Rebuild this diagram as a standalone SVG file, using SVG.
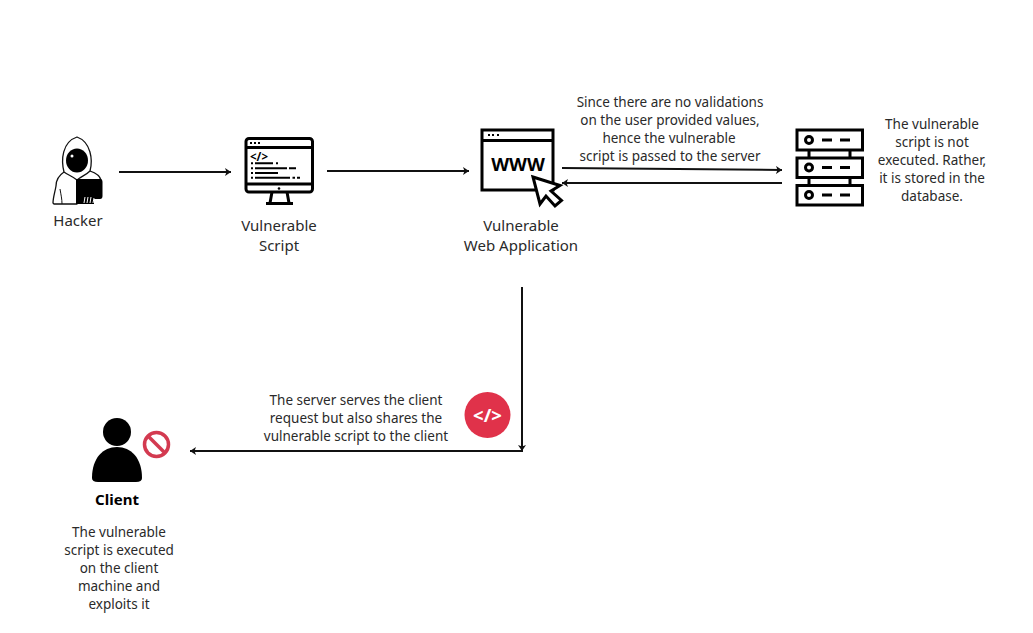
<svg xmlns="http://www.w3.org/2000/svg" width="1033" height="633" viewBox="0 0 1033 633">
<style>
text{font-family:"Noto Sans","Open Sans","Liberation Sans",sans-serif;font-size:13.5px;fill:#2a2a2a;text-anchor:middle}
.big{font-size:15px}
.o{fill:none;stroke:#000;stroke-width:3}
.t{fill:#fff;stroke:#111;stroke-width:1.300;stroke-linejoin:round}
.k{fill:#000}
.c{fill:none;stroke:#111;stroke-width:2}
</style>
<defs>
<marker id="a" markerUnits="userSpaceOnUse" markerWidth="8" markerHeight="8" refX="6" refY="4" orient="auto"><path d="M0 0L6 4L0 8L1.500 4Z" fill="#111"/></marker>
</defs>
<rect width="1033" height="633" fill="#fff"/>
<g id="connectors">
<path class="c" marker-end="url(#a)" d="M119 172H231"/>
<path class="c" marker-end="url(#a)" d="M327 171H469"/>
<path class="c" marker-end="url(#a)" d="M562 168L782 170"/>
<path class="c" marker-end="url(#a)" d="M782 183H562"/>
<path class="c" marker-end="url(#a)" d="M522 287V451"/>
<path class="c" marker-end="url(#a)" d="M523 451H190"/>
</g>
<g id="hacker">
<path class="t" d="M64 172C58 176 56 180 56 186C55 192 53 198 53 203L54 204H77V172Z"/>
<path class="t" d="M90 171C96 173 100 176 101 180H77V172Z"/>
<path class="t" d="M64 172C61 160 62 142 77 137C91 142 93 160 90 171C86 175 82 176 77 180C72 176 68 175 64 172Z"/>
<path d="M60 189C61 195 62 199 62 204" fill="none" stroke="#111" stroke-width="1"/>
<ellipse class="k" cx="77" cy="160.500" rx="11" ry="12"/>
<circle cx="72" cy="156" r="1.500" fill="#fff"/>
<path class="k" d="M76 179H100Q102.500 179 102.500 182V196Q102.500 199 100 199H94V204H76Z"/>
<path d="M84 203L85 197M87 203L88 197M90 203L91 197M93 203L94 198" stroke="#fff" stroke-width="1" fill="none"/>
<text x="78" y="226" class="big">Hacker</text>
</g>
<g id="vulnerable-script">
<rect class="o" x="246" y="138.500" width="66.500" height="53.500" rx="3"/>
<path class="o" d="M246 147.500H312.500M246 184H312.500M272 192L270 203M287 192L289 203M266 203.500H293"/>
<path d="M250 143H252M254 143H256M258 143H260" stroke="#000" stroke-width="2.200"/>
<text x="259" y="160.500" style="font-size:11.500px;font-weight:700;fill:#000">&lt;/&gt;</text>
<path d="M251 163.300H253M255 163.300H273M276 163.300H278M251 168.300H253M255 168.300H287M289 168.300H296M251 173H253M255 173H278M251 177.700H253M255 177.700H290M292.500 177.700H295M297 177.700H300" stroke="#000" stroke-width="2.100"/>
<circle class="k" cx="279" cy="188.500" r="1.300"/>
<text x="279" y="231" class="big">Vulnerable</text>
<text x="279" y="251" class="big">Script</text>
</g>
<g id="web-application">
<rect class="o" x="482" y="130" width="71" height="60"/>
<path class="o" d="M482 140.500H553"/>
<path d="M488 135H490M492 135H494M497 135H499" stroke="#000" stroke-width="2"/>
<text x="518" y="171" style="font-size:18.500px;font-weight:700;fill:#000">WWW</text>
<path fill="#fff" stroke="#000" stroke-width="3" stroke-linejoin="miter" d="M533 177L560 185.500L551 191L561.500 200.500L555 206L546 196L540 204Z"/>
<text x="521" y="231" class="big">Vulnerable</text>
<text x="521" y="251" class="big">Web Application</text>
</g>
<g id="note-validation">
<text x="670" y="107">Since there are no validations</text>
<text x="670" y="125">on the user provided values,</text>
<text x="669" y="143">hence the vulnerable</text>
<text x="670" y="161">script is passed to the server</text>
</g>
<g id="server">
<rect class="o" x="797" y="130" width="65.500" height="20"/>
<rect class="o" x="797" y="158" width="65.500" height="19.500"/>
<rect class="o" x="797" y="185.500" width="65.500" height="19.500"/>
<path class="o" d="M809 150V158M850 150V158M809 177.500V185.500M850 177.500V185.500M822 140H832M840 140H850M822 167.500H832M840 167.500H850M822 195H832M840 195H850"/>
<circle class="o" cx="809" cy="140" r="3.500"/>
<circle class="o" cx="809" cy="167.500" r="3.500"/>
<circle class="o" cx="809" cy="195" r="3.500"/>
</g>
<g id="note-database">
<text x="932" y="129">The vulnerable</text>
<text x="932" y="147">script is not</text>
<text x="932" y="165">executed. Rather,</text>
<text x="932" y="183">it is stored in the</text>
<text x="932" y="201">database.</text>
</g>
<g id="script-badge">
<circle cx="487.500" cy="415" r="23" fill="#e0324a"/>
<text x="487.500" y="421.500" style="font-size:18.500px;font-weight:700;fill:#fff">&lt;/&gt;</text>
</g>
<g id="note-client-request">
<text x="356" y="405">The server serves the client</text>
<text x="356" y="423">request but also shares the</text>
<text x="356" y="441">vulnerable script to the client</text>
</g>
<g id="client">
<circle class="k" cx="117" cy="432" r="14"/>
<path class="k" d="M92 478C92 458 103 447 117 447C131 447 142 458 142 478Q142 482 136 482H98Q92 482 92 478Z"/>
<circle cx="156.500" cy="444.500" r="12" fill="none" stroke="#d33a50" stroke-width="3.500"/>
<path d="M148 436L165 453" stroke="#d33a50" stroke-width="3.500"/>
<text x="117" y="505" class="big" style="font-weight:700;fill:#000">Client</text>
</g>
<g id="note-client">
<text x="119" y="537">The vulnerable</text>
<text x="119" y="555">script is executed</text>
<text x="119" y="573">on the client</text>
<text x="119" y="591">machine and</text>
<text x="119" y="609">exploits it</text>
</g>
</svg>
